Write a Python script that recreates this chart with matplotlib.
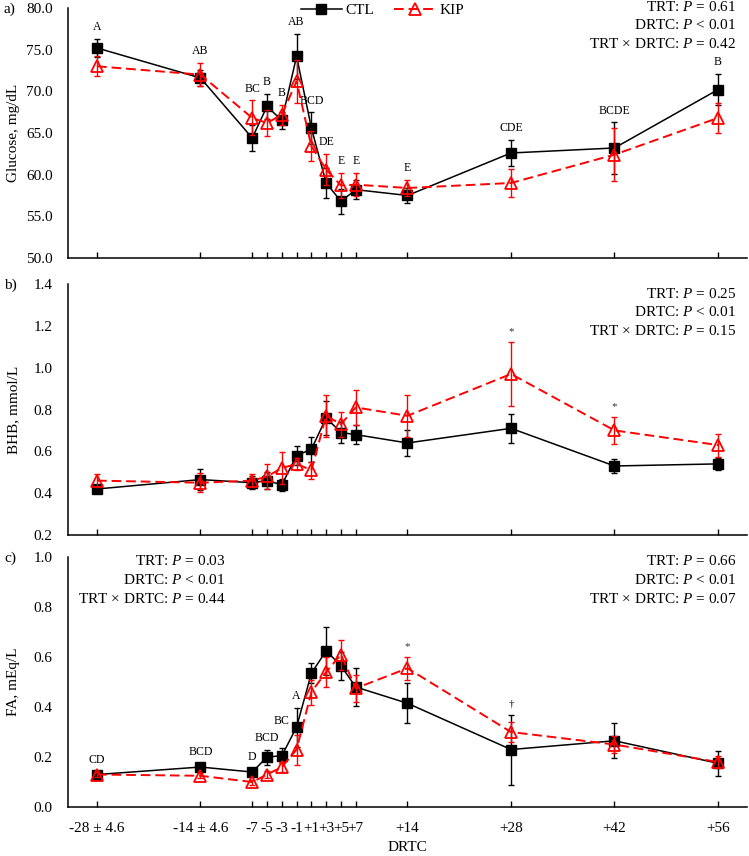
import numpy as np
import matplotlib
matplotlib.use('Agg')
import matplotlib.pyplot as plt
from matplotlib.ticker import FormatStrFormatter

plt.rcParams['font.family'] = ['Liberation Serif', 'DejaVu Serif']
plt.rcParams['mathtext.fontset'] = 'custom'
plt.rcParams['mathtext.rm'] = 'Liberation Serif'
plt.rcParams['mathtext.it'] = 'Liberation Serif:italic'

# days relative to calving
days = [-28, -14, -7, -5, -3, -1, 1, 3, 5, 7, 14, 28, 42, 56]
day_labels = ['-28 ± 4.6', '-14 ± 4.6', '-7', '-5', '-3', '-1', '+1', '+3',
              '+5', '+7', '+14', '+28', '+42', '+56']

# glucose, mg/dL
glu_ctl = [75.2, 71.6, 64.4, 68.2, 66.5, 74.2, 65.6, 59.0, 56.8, 58.2, 57.5, 62.6, 63.2, 70.2]
glu_ctl_se = [1.1, 1.0, 1.6, 1.5, 1.0, 2.7, 1.9, 1.8, 1.5, 1.1, 0.9, 1.6, 3.1, 1.9]
glu_kip = [73.0, 72.0, 66.8, 66.2, 67.2, 71.2, 63.4, 60.6, 58.7, 58.8, 58.4, 59.0, 62.4, 66.8]
glu_kip_se = [1.2, 1.4, 2.1, 1.6, 1.2, 2.6, 1.8, 1.9, 1.5, 1.4, 1.0, 1.7, 3.2, 1.8]
glu_marks = ['A', 'AB', 'BC', 'B', 'B', 'AB', 'BCD', 'DE', 'E', 'E', 'E', 'CDE', 'BCDE', 'B']

# BHB, mmol/L
bhb_ctl = [0.42, 0.465, 0.45, 0.46, 0.44, 0.58, 0.61, 0.76, 0.69, 0.68, 0.64, 0.71, 0.53, 0.54]
bhb_ctl_se = [0.02, 0.05, 0.03, 0.04, 0.03, 0.045, 0.06, 0.08, 0.05, 0.045, 0.06, 0.07, 0.035, 0.03]
bhb_kip = [0.46, 0.45, 0.46, 0.48, 0.52, 0.54, 0.51, 0.77, 0.73, 0.81, 0.77, 0.97, 0.70, 0.63]
bhb_kip_se = [0.03, 0.045, 0.03, 0.06, 0.075, 0.03, 0.04, 0.10, 0.06, 0.085, 0.10, 0.155, 0.065, 0.055]
bhb_marks = ['', '', '', '', '', '', '', '', '', '', '', '*', '*', '']

# FA, mEq/L
fa_ctl = [0.13, 0.16, 0.14, 0.20, 0.205, 0.32, 0.535, 0.625, 0.565, 0.48, 0.415, 0.23, 0.265, 0.175]
fa_ctl_se = [0.01, 0.015, 0.015, 0.03, 0.03, 0.078, 0.04, 0.097, 0.056, 0.077, 0.08, 0.14, 0.07, 0.05]
fa_kip = [0.13, 0.125, 0.10, 0.13, 0.16, 0.23, 0.46, 0.54, 0.61, 0.475, 0.555, 0.30, 0.25, 0.18]
fa_kip_se = [0.01, 0.01, 0.01, 0.015, 0.02, 0.06, 0.05, 0.06, 0.06, 0.055, 0.047, 0.04, 0.035, 0.025]
fa_marks = ['CD', 'BCD', 'D', 'BCD', 'BC', 'A', '', '', '', '', '*', '†', '', '']

pvals_glu = ['TRT: $P$ = 0.61', 'DRTC: $P$ < 0.01', 'TRT × DRTC: $P$ = 0.42']
pvals_bhb = ['TRT: $P$ = 0.25', 'DRTC: $P$ < 0.01', 'TRT × DRTC: $P$ = 0.15']
pvals_fa_pre = ['TRT: $P$ = 0.03', 'DRTC: $P$ < 0.01', 'TRT × DRTC: $P$ = 0.44']
pvals_fa_post = ['TRT: $P$ = 0.66', 'DRTC: $P$ < 0.01', 'TRT × DRTC: $P$ = 0.07']

fig = plt.figure(figsize=(7.49, 8.56), dpi=100)
L, W = 0.0908, 0.9065
ax_a = fig.add_axes([L, 0.6986, W, 0.2921])
ax_b = fig.add_axes([L, 0.3750, W, 0.2932])
ax_c = fig.add_axes([L, 0.0572, W, 0.2921])


def draw(ax, ctl, ctl_se, kip, kip_se, marks, nudge=None):
    ax.errorbar(days, ctl, yerr=ctl_se, fmt='none', ecolor='black',
                elinewidth=1.0, capsize=2.5, capthick=1.0, zorder=2)
    ax.plot(days, ctl, '-', color='black', lw=1.1, marker='s', ms=7,
            label='CTL', zorder=3)
    ax.errorbar(days, kip, yerr=kip_se, fmt='none', ecolor='red',
                elinewidth=1.0, capsize=2.5, capthick=1.0, zorder=4)
    ax.plot(days, kip, '--', color='red', lw=1.4, dashes=(5, 2.5), marker='^',
            ms=8, mfc='none', mec='red', mew=1.3, label='KIP', zorder=5)
    top = np.maximum(np.array(ctl) + np.array(ctl_se), np.array(kip) + np.array(kip_se))
    for i, m in enumerate(marks):
        if not m:
            continue
        dy = 4
        if nudge and i in nudge:
            dy += nudge[i]
        sz = 8 if m in ('*', '†') else 8.5
        ax.annotate(m, (days[i], top[i]), xytext=(0, dy), textcoords='offset points',
                    ha='center', va='bottom', fontsize=sz,
                    color='#333333' if m == '*' else 'black')
    ax.spines['top'].set_visible(False)
    ax.spines['right'].set_visible(False)
    ax.spines['left'].set_linewidth(1.1)
    ax.spines['bottom'].set_linewidth(1.1)
    ax.set_xlim(-31.92, 59.92)
    ax.set_xticks(days)
    ax.tick_params(axis='x', direction='in', length=4, width=1.0, labelsize=11, pad=11)
    ax.tick_params(axis='y', length=0, labelsize=11, pad=11)
    ax.yaxis.set_major_formatter(FormatStrFormatter('%.1f'))


def pvals(ax, lines, x, ha, shift=0):
    for k, s in enumerate(lines):
        ax.annotate(s, (x, 1.0), xycoords='axes fraction',
                    xytext=(0, 1 - 13.5 * k - shift),
                    textcoords='offset points', ha=ha, va='center', fontsize=11)


draw(ax_a, glu_ctl, glu_ctl_se, glu_kip, glu_kip_se, glu_marks)
ax_a.set_ylim(50, 80)
ax_a.set_yticks(np.arange(50, 80.1, 5))
ax_a.set_xticklabels([])
ax_a.set_ylabel('Glucose, mg/dL', fontsize=11)
pvals(ax_a, pvals_glu, 0.984, 'right')
ax_a.legend(loc='center', bbox_to_anchor=(0.463, 0.99), ncol=2, frameon=False,
            fontsize=11, handlelength=2.7, handletextpad=0.25, columnspacing=1.3,
            borderaxespad=0, borderpad=0)

draw(ax_b, bhb_ctl, bhb_ctl_se, bhb_kip, bhb_kip_se, bhb_marks)
ax_b.set_ylim(0.2, 1.4)
ax_b.set_yticks(np.arange(0.2, 1.41, 0.2))
ax_b.set_xticklabels([])
ax_b.set_ylabel('BHB, mmol/L', fontsize=11)
pvals(ax_b, pvals_bhb, 0.984, 'right', shift=8)

draw(ax_c, fa_ctl, fa_ctl_se, fa_kip, fa_kip_se, fa_marks, nudge={4: 11})
ax_c.set_ylim(0.0, 1.0)
ax_c.set_yticks(np.arange(0.0, 1.01, 0.2))
ax_c.set_xticklabels(day_labels)
ax_c.set_xlabel('DRTC', fontsize=11, labelpad=4)
ax_c.set_ylabel('FA, mEq/L', fontsize=11)
pvals(ax_c, pvals_fa_pre, 0.232, 'right', shift=4)
pvals(ax_c, pvals_fa_post, 0.984, 'right', shift=4)

for ax in (ax_a, ax_b, ax_c):
    ax.yaxis.set_label_coords(-0.07, 0.5)

fig.text(4 / 749, 1 - 9 / 856, 'a)', ha='left', va='center', fontsize=11)
fig.text(4 / 749, 1 - 285 / 856, 'b)', ha='left', va='center', fontsize=11)
fig.text(4 / 749, 1 - 558 / 856, 'c)', ha='left', va='center', fontsize=11)

fig.savefig('out.png', dpi=100)
